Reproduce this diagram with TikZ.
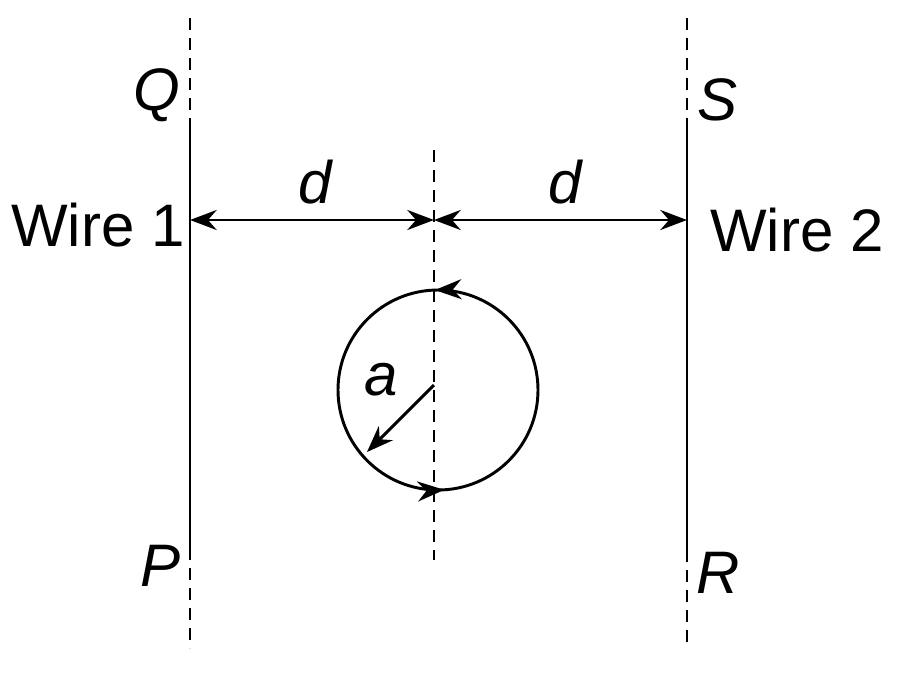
\documentclass[tikz,border=0pt]{standalone}
\usepackage{fontspec}
\setmainfont{Liberation Sans}
\usetikzlibrary{arrows.meta,decorations.markings}
\tikzset{every picture/.style={line width=2.2pt}}
\tikzset{
	dashline/.style={dash pattern={on 9pt off 6pt}, line width=1.6pt},
	lbl/.style={inner sep=0.75pt, font=\fontsize{45}{52}\selectfont},
	tip/.style={-{Stealth[length=20pt,width=15pt]}}
}
\begin{document}
\begin{tikzpicture}[x=0.75pt,y=0.75pt,yscale=-1,xscale=1]
		\useasboundingbox (0,0) rectangle (900,676);
		
		%Wire 1
		\coordinate (Qtop) at (190,18);
		\coordinate (Q) at (190,118);
		\coordinate (P) at (190,548);
		\coordinate (Pbot) at (190,648);
		\draw [dashline] (Qtop) -- (Q);
		\draw (Q) -- (P);
		\draw [dashline] (P) -- (Pbot);
		%Wire 2
		\coordinate (Stop) at (687,18);
		\coordinate (S) at (687,118);
		\coordinate (R) at (687,550);
		\coordinate (Rbot) at (687,648);
		\draw [dashline] (Stop) -- (S);
		\draw (S) -- (R);
		\draw [dashline] (R) -- (Rbot);
		%Axis
		\coordinate (axtop) at (434,150);
		\coordinate (axbot) at (434,560);
		\draw [dashline] (axtop) -- (axbot);
		
		%Distance arrows
		\coordinate (dl) at (190,220);
		\coordinate (dm) at (434,220);
		\coordinate (dr) at (687,220);
		\draw [{Stealth[length=20pt,width=15pt]}-{Stealth[length=20pt,width=15pt]}] (dl) -- (dm);
		\draw [{Stealth[length=20pt,width=15pt]}-{Stealth[length=20pt,width=15pt]}] (dm) -- (dr);
		
		%Loop
		\coordinate (O) at (438,390);
		\draw [postaction={decorate}, decoration={markings,
			mark=at position 0.255 with {\arrow{Stealth[length=20pt,width=15pt]}},
			mark=at position 0.76 with {\arrow{Stealth[length=20pt,width=15pt]}}}]
			(538,390) arc[start angle=0, end angle=-360, radius=100];
		%Radius
		\coordinate (rim) at (367,452);
		\draw [tip] (434,385) -- (rim);
		
		% Text Node
		\node [lbl] (lq) at (157,95) {\itshape Q};
		\node [lbl] (ls) at (718,100) {\itshape S};
		\node [lbl] (lp) at (161,566) {\itshape P};
		\node [lbl] (lr) at (718,573) {\itshape R};
		\node [lbl] (ld1) at (315,182) {\itshape d};
		\node [lbl] (ld2) at (565,182) {\itshape d};
		\node [lbl] (la) at (381,380) {\itshape a};
		\node [lbl] (w1) at (98,225) {Wire 1};
		\node [lbl] (w2) at (797,230) {Wire 2};
		
	\end{tikzpicture}
\end{document}
